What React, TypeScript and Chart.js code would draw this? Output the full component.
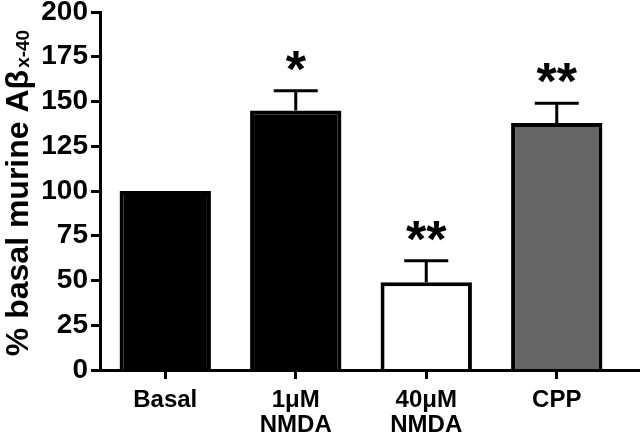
import React, { useEffect, useRef } from "react";
import { Chart, registerables } from "chart.js";

Chart.register(...registerables);

const categories: (string | string[])[] = ["Basal", ["1\u03bcM", "NMDA"], ["40\u03bcM", "NMDA"], "CPP"];
const means = [100, 145, 49, 138];
const errors = [0, 11, 12, 11];
const significance = ["", "*", "**", "**"];
const barColors = ["#000000", "#000000", "#ffffff", "#666666"];
const yTicks = [0, 25, 50, 75, 100, 125, 150, 175, 200];

const FONT = "'Liberation Sans', Arial, sans-serif";

const extrasPlugin = {
  id: "extras",
  afterDatasetsDraw(chart: any) {
    const ctx = chart.ctx;
    const meta = chart.getDatasetMeta(0);
    const y = chart.scales.y;
    ctx.save();
    meta.data.forEach((bar: any, i: number) => {
      const x = bar.x;
      const top = y.getPixelForValue(means[i]);
      const et = y.getPixelForValue(means[i] + errors[i]);
      if (errors[i] > 0) {
        ctx.strokeStyle = "#000";
        ctx.lineWidth = 3;
        ctx.beginPath();
        ctx.moveTo(x, top);
        ctx.lineTo(x, et);
        ctx.moveTo(x - 22, et);
        ctx.lineTo(x + 22, et);
        ctx.stroke();
      }
      if (significance[i]) {
        ctx.fillStyle = "#000";
        ctx.font = `bold 52px ${FONT}`;
        ctx.textAlign = "center";
        ctx.textBaseline = "alphabetic";
        ctx.fillText(significance[i], x, et - 4);
      }
    });
    // extend x axis to right edge
    ctx.strokeStyle = "#000";
    ctx.lineWidth = 3;
    ctx.beginPath();
    ctx.moveTo(chart.chartArea.left, chart.chartArea.bottom + 0.5);
    ctx.lineTo(chart.width, chart.chartArea.bottom + 0.5);
    ctx.stroke();
    // y axis title with subscript
    const main = "% basal murine A\u03b2";
    const sub = "x-40";
    ctx.translate(28, 193);
    ctx.rotate(-Math.PI / 2);
    ctx.font = `bold 32px ${FONT}`;
    const wMain = ctx.measureText(main).width;
    ctx.font = `bold 19px ${FONT}`;
    const wSub = ctx.measureText(sub).width;
    const total = wMain + 2 + wSub;
    ctx.textAlign = "left";
    ctx.textBaseline = "alphabetic";
    ctx.fillStyle = "#000";
    ctx.font = `bold 32px ${FONT}`;
    ctx.fillText(main, -total / 2, 0);
    ctx.font = `bold 19px ${FONT}`;
    ctx.fillText(sub, -total / 2 + wMain + 2, 1);
    ctx.restore();
  },
};

export default function App() {
  const ref = useRef<HTMLCanvasElement>(null);
  useEffect(() => {
    if (!ref.current) return;
    const chart = new Chart(ref.current, {
      type: "bar",
      data: {
        labels: categories,
        datasets: [
          {
            data: means,
            backgroundColor: barColors,
            borderColor: "#000",
            borderWidth: 4,
            borderSkipped: "bottom",
            barPercentage: 0.7,
            categoryPercentage: 1,
          },
        ],
      },
      options: {
        animation: false,
        responsive: false,
        maintainAspectRatio: false,
        layout: { padding: { left: 0, top: 12, right: 18, bottom: 0 } },
        plugins: { legend: { display: false }, tooltip: { enabled: false } },
        scales: {
          x: {
            afterFit: (s: any) => {
              s.height = 73;
              s.paddingLeft = 0;
              s.paddingRight = 0;
            },
            grid: { drawOnChartArea: false, offset: false, tickLength: 9, tickWidth: 3, color: "#000" },
            border: { color: "#000", width: 3 },
            ticks: {
              color: "#000",
              font: { family: FONT, size: 24, weight: "bold", lineHeight: 1.05 },
              padding: 9,
              maxRotation: 0,
            },
          },
          y: {
            min: 0,
            max: 200,
            afterFit: (s: any) => {
              s.width = 100;
              s.paddingTop = 0;
              s.paddingBottom = 0;
            },
            afterBuildTicks: (s: any) => {
              s.ticks = yTicks.map((v) => ({ value: v }));
            },
            grid: { drawOnChartArea: false, tickLength: 9, tickWidth: 3, color: "#000" },
            border: { color: "#000", width: 3 },
            ticks: {
              color: "#000",
              font: { family: FONT, size: 28, weight: "bold" },
              padding: 3,
            },
          },
        },
      },
      plugins: [extrasPlugin],
    });
    return () => chart.destroy();
  }, []);
  return (
    <div style={{ position: "fixed", left: 0, top: 0, width: 640, height: 443, background: "#fff" }}>
      <canvas ref={ref} width={640} height={443} style={{ width: 640, height: 443 }} />
    </div>
  );
}
